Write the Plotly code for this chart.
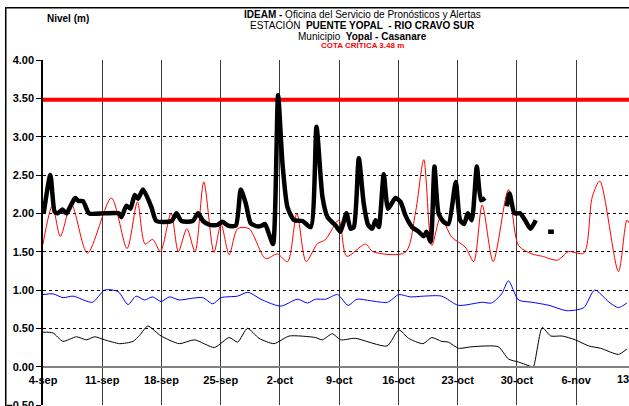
import plotly.graph_objects as go

# days counted from 4-sep
tick_days = [0, 7, 14, 21, 28, 35, 42, 49, 56, 63]
tick_labels = ["4-sep", "11-sep", "18-sep", "25-sep", "2-oct", "9-oct",
               "16-oct", "23-oct", "30-oct", "6-nov"]

cota_critica = 3.48

# observed level (thick black), None = no data
obs_day = [0.08, 0.87, 1.38, 1.74, 2.29, 2.77, 3.27, 3.8, 4.2, 4.73, 5.44, 7.2, 8.95, 9.27,
           9.86, 10.33, 10.84, 11.23, 11.82, 12.81, 13.4, 15.18, 15.77, 16.36, 17.7, 18.32,
           18.91, 19.7, 20.65, 21.2, 21.87, 22.78, 23.37, 23.96, 24.55, 25.34, 25.85, 26.24,
           26.71, 27.19, 27.78, 28.3, 28.89, 29.67, 30.66, 31.64, 32.32, 33.03, 33.62, 34.6,
           35.15, 35.86, 36.34, 36.73, 37.32, 37.9, 38.42, 38.9, 39.3, 39.68, 40.27, 40.78,
           41.65, 42.25, 42.84, 43.62, 44.4, 45.0, 45.32, 45.8, 46.26, 46.74, 47.33, 47.92,
           48.78, 49.29, 49.76, 50.2, 50.67, 51.27, 51.77, 52.25, 53.5,
           54.81, 55.13, 55.72, 56.38, 56.97, 57.61, 58.24, 59.0,
           59.69, 60.37]
obs_m = [2.00, 2.50, 2.02, 2.00, 2.05, 2.00, 2.10, 2.20, 2.16, 2.16, 2.00, 2.00, 2.00, 1.95,
         2.10, 2.06, 2.24, 2.19, 2.31, 2.08, 1.90, 1.90, 2.00, 1.90, 1.90, 2.00,
         1.90, 1.85, 1.85, 1.89, 1.84, 1.84, 2.31, 2.13, 1.87, 1.83, 1.84, 1.86,
         1.73, 1.60, 3.54, 2.65, 2.08, 1.91, 1.90, 1.82, 3.13, 2.21, 1.95, 1.84,
         1.76, 2.00, 1.80, 1.82, 2.72, 2.13, 1.85, 1.80, 1.91, 1.82, 2.51, 2.06,
         2.20, 2.15, 1.97, 1.82, 1.76, 1.70, 1.76, 1.63, 2.61, 2.00, 1.89, 1.86,
         2.41, 1.91, 1.86, 2.00, 1.91, 2.61, 2.17, 2.20, None,
         2.09, 2.26, 2.00, 2.00, 1.91, 1.80, 1.91, None,
         1.76, 1.76]

# historical maximum (thin red)
max_day = [0.0, 1.11, 2.05, 3.35, 5.25, 8.08, 9.93, 11.16, 12.06, 12.97, 13.87, 15.13, 16.0,
           17.0, 17.97, 19.0, 20.2, 21.04, 22.0, 23.0, 24.35, 26.3, 27.7, 28.9, 30.0, 31.1,
           32.4, 33.4, 34.95, 35.9, 38.1, 39.0, 42.8, 44.0, 45.0, 45.95, 47.0, 48.3, 49.9,
           50.9, 51.9, 53.2, 55.0, 56.2, 57.8, 59.0, 60.8, 62.1, 63.9, 64.9, 65.8, 68.0,
           69.0, 69.3]
max_m = [1.60, 2.10, 1.70, 2.12, 1.48, 2.20, 1.54, 2.15, 1.60, 1.66, 1.50, 2.00, 1.50,
         1.80, 1.50, 2.41, 1.49, 1.86, 1.46, 1.80, 1.80, 1.41, 1.47, 1.37, 2.00, 1.37,
         1.60, 1.66, 1.91, 1.44, 1.60, 1.50, 1.49, 2.00, 2.70, 1.58, 1.95, 1.69, 1.56,
         1.37, 2.11, 1.37, 2.31, 1.58, 1.47, 1.44, 1.39, 1.50, 1.48, 2.21, 2.42, 1.24,
         1.91, 1.87]

# historical mean (blue)
mean_day = [0.0, 1.18, 2.36, 3.55, 5.84, 7.3, 8.87, 10.05, 11.0, 11.98, 12.97, 13.95, 14.94,
            16.1, 17.5, 18.88, 20.06, 21.04, 23.0, 24.2, 25.93, 28.1, 30.07, 31.25, 32.2,
            33.4, 34.8, 36.05, 37.1, 38.7, 40.7, 42.05, 43.4, 45.0, 47.1, 49.1, 51.9, 53.0,
            54.2, 55.0, 56.2, 57.8, 59.8, 61.9, 63.9, 65.2, 66.9, 68.0, 69.0]
mean_m = [0.94, 0.95, 0.90, 0.92, 0.84, 1.00, 0.98, 0.81, 0.92, 0.87, 0.91, 0.85, 0.91,
          0.87, 0.89, 0.90, 0.82, 0.90, 0.92, 0.97, 0.87, 0.79, 0.88, 0.83, 0.88,
          0.88, 0.94, 0.80, 0.88, 0.86, 0.84, 0.94, 0.91, 0.92, 0.92, 0.80, 0.84, 0.83,
          0.95, 1.12, 0.87, 0.84, 0.80, 0.73, 0.77, 1.00, 0.84, 0.77, 0.83]

# historical minimum (thin black)
min_day = [0.0, 1.18, 2.36, 3.95, 5.13, 6.11, 7.29, 9.07, 10.64, 11.43, 12.38, 13.95, 16.1,
           17.9, 20.26, 22.0, 23.0, 24.16, 25.53, 27.3, 29.1, 32.2, 33.0, 34.2, 35.15, 36.9,
           40.66, 42.05, 43.2, 44.9, 45.95, 47.1, 47.9, 49.1, 50.7, 53.8, 55.0, 56.2, 57.8,
           58.0, 59.0, 60.0, 61.35, 62.9, 64.5, 65.9, 68.0, 69.0]
min_m = [0.45, 0.44, 0.33, 0.39, 0.35, 0.39, 0.35, 0.30, 0.33, 0.41, 0.53, 0.40, 0.30,
         0.35, 0.25, 0.38, 0.32, 0.50, 0.37, 0.30, 0.40, 0.38, 0.35, 0.43, 0.35, 0.37,
         0.27, 0.48, 0.37, 0.30, 0.38, 0.33, 0.32, 0.24, 0.26, 0.26, 0.10, 0.06, 0.0,
         0.01, 0.51, 0.40, 0.40, 0.35, 0.27, 0.24, 0.16, 0.23]

FONT = "Liberation Sans, Arial, sans-serif"
x_end = 69.25

fig = go.Figure()

# critical level
fig.add_trace(go.Scatter(x=[0, x_end], y=[cota_critica, cota_critica], mode="lines",
                         line=dict(color="#ff0000", width=4), hoverinfo="skip"))

def smooth_line(x, y, color, width, smoothing=0.7):
    fig.add_trace(go.Scatter(x=x, y=y, mode="lines", connectgaps=False,
                             line=dict(color=color, width=width, shape="spline",
                                       smoothing=smoothing)))

smooth_line(min_day, min_m, "#000000", 1, 0.6)
smooth_line(mean_day, mean_m, "#0000ff", 1, 0.7)
smooth_line(max_day, max_m, "#ff0000", 1, 0.8)
smooth_line(obs_day, obs_m, "#000000", 4.5, 0.6)

fig.update_layout(
    width=629, height=406,
    margin=dict(l=43, r=0, t=60, b=1, autoexpand=False),
    paper_bgcolor="white", plot_bgcolor="white",
    showlegend=False,
    font=dict(family=FONT, color="black"),
    xaxis=dict(range=[0, x_end], tickvals=tick_days, ticktext=tick_labels,
               showgrid=True, gridcolor="#3a3a3a", gridwidth=1,
               zeroline=False, anchor="free", position=0.5 / 4.5,
               showline=True, linecolor="#808080", linewidth=1.5,
               ticks="outside", ticklen=3, tickcolor="rgba(0,0,0,0)",
               automargin=False,
               tickfont=dict(size=11, weight="bold")),
    yaxis=dict(range=[-0.5, 4.0], dtick=0.5, tickformat=".2f",
               showgrid=True, gridcolor="black", gridwidth=1, griddash="dot",
               zeroline=False, showline=True, linecolor="black", linewidth=1.5,
               ticks="outside", ticklen=5, tickcolor="black",
               ticklabeloverflow="allow", automargin=False,
               tickfont=dict(size=11, weight="bold")),
)

def label(text, x, y, size=10, color="black", **kw):
    fig.add_annotation(text=text, x=x, y=y, xref="paper", yref="paper", showarrow=False,
                       xanchor="center", yanchor="middle",
                       font=dict(size=size, color=color), **kw)

title_x = 0.546
label("<b>IDEAM -</b> Oficina del Servicio de Pronósticos y Alertas", title_x, 1.133)
label("ESTACIÓN  <b>PUENTE YOPAL  - RIO CRAVO SUR</b>", title_x, 1.101)
label("Municipio  <b>Yopal - Casanare</b>", title_x, 1.068)
label("<b>COTA CRÍTICA 3.48 m</b>", title_x, 1.041, size=8, color="#ff0000")
label("<b>Nivel (m)</b>", 0.043, 1.119)
# 13-nov label, cut by the right edge
label("<b>13-nov</b>", 1.011, 0.5 / 4.5, size=11, yshift=-12.5)

# outer chart frame: an empty bordered box starting at the top-left corner,
# its right and bottom sides fall outside the picture
fig.add_annotation(text=" ", x=-0.0648, y=1.1536, xref="paper", yref="paper",
                   xanchor="left", yanchor="top", showarrow=False,
                   width=700, height=500, borderpad=0,
                   bordercolor="black", borderwidth=1.5)

# page body has a default 8px margin; drop it so the chart fills the window
fig.write_html("out.html", config={"displayModeBar": False},
               post_script="document.body.style.margin = '0';")
